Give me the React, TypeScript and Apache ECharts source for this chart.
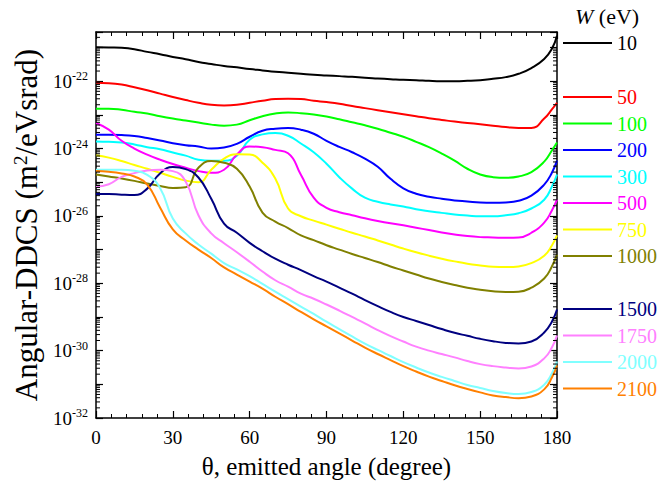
import React, { useEffect, useRef } from 'react';
import * as echarts from 'echarts';

const FONT = 'Liberation Serif';

// emitted angle (degree)
const angles = [0, 5, 10, 15, 20, 25, 30, 35, 40, 45, 50, 55, 60, 65, 70, 75, 80, 85, 90, 95,
  100, 105, 110, 115, 120, 125, 130, 135, 140, 145, 150, 155, 160, 165, 170, 175, 178, 180];

// log10 of Angular-DDCS (m^2/eVsrad), one array per W (eV)
const w10 = [-20.99, -21.00, -21.01, -21.05, -21.13, -21.20, -21.28, -21.35, -21.43, -21.49,
  -21.55, -21.59, -21.64, -21.68, -21.72, -21.75, -21.78, -21.81, -21.83, -21.85,
  -21.87, -21.90, -21.92, -21.94, -21.96, -21.97, -21.99, -22.00, -22.00, -21.99,
  -21.97, -21.93, -21.88, -21.78, -21.61, -21.34, -21.04, -20.65];
const w50 = [-22.05, -22.06, -22.10, -22.18, -22.27, -22.37, -22.47, -22.56, -22.64, -22.70,
  -22.72, -22.70, -22.64, -22.58, -22.53, -22.52, -22.53, -22.58, -22.62, -22.67,
  -22.74, -22.80, -22.86, -22.92, -22.98, -23.04, -23.10, -23.15, -23.20, -23.24,
  -23.28, -23.32, -23.36, -23.39, -23.39, -23.11, -22.84, -22.64];
const w100 = [-22.82, -22.82, -22.85, -22.91, -22.96, -23.04, -23.11, -23.17, -23.23, -23.29,
  -23.32, -23.29, -23.16, -23.04, -22.96, -22.93, -22.95, -22.99, -23.05, -23.13,
  -23.22, -23.31, -23.41, -23.53, -23.65, -23.80, -23.96, -24.15, -24.36, -24.60,
  -24.77, -24.85, -24.87, -24.83, -24.70, -24.39, -24.06, -23.82];
const w200 = [-23.59, -23.59, -23.60, -23.63, -23.69, -23.76, -23.84, -23.90, -23.94, -24.00,
  -23.97, -23.86, -23.65, -23.47, -23.41, -23.39, -23.44, -23.56, -23.77, -23.95,
  -24.11, -24.30, -24.54, -24.90, -25.18, -25.34, -25.43, -25.49, -25.54, -25.57,
  -25.60, -25.61, -25.60, -25.55, -25.40, -25.07, -24.72, -24.36];
const w300 = [-23.79, -23.80, -23.82, -23.88, -23.96, -24.02, -24.12, -24.21, -24.33, -24.36,
  -24.36, -24.21, -23.74, -23.58, -23.54, -23.62, -23.85, -24.11, -24.45, -24.85,
  -25.19, -25.46, -25.58, -25.66, -25.72, -25.80, -25.86, -25.91, -25.96, -25.99,
  -26.01, -26.01, -25.98, -25.92, -25.78, -25.52, -25.13, -24.77];
const w500 = [-23.24, -23.44, -23.77, -24.00, -24.18, -24.33, -24.46, -24.57, -24.67, -24.72,
  -24.63, -24.18, -23.94, -23.96, -24.04, -24.14, -24.78, -25.46, -25.76, -25.89,
  -25.98, -26.07, -26.15, -26.22, -26.28, -26.35, -26.42, -26.49, -26.55, -26.60,
  -26.63, -26.64, -26.65, -26.64, -26.50, -26.20, -25.84, -25.52];
const w750 = [-24.20, -24.27, -24.37, -24.49, -24.60, -24.72, -24.84, -24.95, -25.00, -24.63,
  -24.30, -24.17, -24.18, -24.42, -24.89, -25.78, -26.01, -26.14, -26.26, -26.38,
  -26.50, -26.61, -26.73, -26.85, -26.97, -27.08, -27.18, -27.27, -27.35, -27.42,
  -27.47, -27.51, -27.52, -27.50, -27.40, -27.18, -26.88, -26.58];
const w1000 = [-24.77, -24.83, -24.89, -24.96, -25.04, -25.11, -25.17, -25.15, -24.57, -24.37,
  -24.42, -24.60, -25.13, -25.90, -26.17, -26.36, -26.58, -26.72, -26.87, -27.00,
  -27.13, -27.25, -27.37, -27.50, -27.62, -27.74, -27.86, -27.96, -28.05, -28.13,
  -28.19, -28.24, -28.26, -28.25, -28.13, -27.86, -27.50, -27.15];
const w1500 = [-25.35, -25.35, -25.37, -25.38, -25.19, -24.74, -24.55, -24.61, -24.86, -25.49,
  -26.23, -26.50, -26.80, -27.05, -27.27, -27.45, -27.61, -27.79, -27.95, -28.13,
  -28.31, -28.50, -28.68, -28.85, -29.00, -29.12, -29.24, -29.36, -29.47, -29.56,
  -29.65, -29.72, -29.77, -29.79, -29.73, -29.46, -29.14, -28.78];
const w1750 = [-25.13, -25.06, -24.84, -24.73, -24.65, -24.63, -24.67, -24.98, -25.98, -26.52,
  -26.81, -27.08, -27.36, -27.65, -27.91, -28.10, -28.31, -28.46, -28.63, -28.81,
  -29.00, -29.19, -29.39, -29.57, -29.73, -29.88, -30.00, -30.10, -30.20, -30.31,
  -30.40, -30.46, -30.50, -30.53, -30.47, -30.23, -29.91, -29.55];
const w2000 = [-24.63, -24.63, -24.63, -24.66, -24.78, -25.17, -26.08, -26.52, -26.85, -27.12,
  -27.40, -27.59, -27.79, -28.02, -28.25, -28.47, -28.69, -28.91, -29.14, -29.36,
  -29.58, -29.79, -29.98, -30.16, -30.34, -30.50, -30.65, -30.78, -30.90, -31.02,
  -31.11, -31.20, -31.26, -31.29, -31.23, -31.01, -30.68, -30.32];
const w2100 = [-24.67, -24.69, -24.74, -24.83, -25.07, -25.75, -26.40, -26.73, -27.00, -27.25,
  -27.53, -27.74, -27.95, -28.16, -28.40, -28.62, -28.85, -29.07, -29.28, -29.49,
  -29.70, -29.91, -30.10, -30.28, -30.46, -30.62, -30.77, -30.90, -31.03, -31.14,
  -31.24, -31.33, -31.38, -31.41, -31.36, -31.15, -30.80, -30.44];

const seriesNames = ['10', '50', '100', '200', '300', '500', '750', '1000', '1500', '1750', '2000', '2100'];
const seriesValues = [w10, w50, w100, w200, w300, w500, w750, w1000, w1500, w1750, w2000, w2100];
const seriesColors = ['#000000', '#FF0000', '#00FF00', '#0000FF', '#00FFFF', '#FF00FF', '#FFFF00',
  '#808000', '#000080', '#FF80FF', '#80FFFF', '#FF8000'];

const legendGroups = [['10'], ['50', '100', '200', '300', '500', '750', '1000'], ['1500', '1750', '2000', '2100']];
const legendTops = [33, 87, 299];

const Y_MIN = -32;
const Y_MAX = -20.54;

export default function App() {
  const ref = useRef<HTMLDivElement>(null);
  useEffect(() => {
    if (!ref.current) return;
    const chart = echarts.init(ref.current, undefined, { renderer: 'svg' });

    const minorY: number[][] = [];
    for (let n = -32; n <= -21; n++) {
      for (let k = 2; k <= 9; k++) {
        const v = n + Math.log10(k);
        if (v < Y_MAX) minorY.push([0, v]);
      }
    }

    const colorOf = (name: string) => seriesColors[seriesNames.indexOf(name)];

    const axisLine = { show: true, onZero: false, lineStyle: { color: '#000', width: 1.5 } };
    const axisTick = { show: true, inside: true, length: 7, lineStyle: { color: '#000', width: 1.2 } };

    const yFormatter = (v: number) => {
      const n = Math.round(v);
      if (Math.abs(v - n) > 1e-6 || n % 2 !== 0) return '';
      return `{b|10}{s|${n}}`;
    };

    const option: any = {
      animation: false,
      backgroundColor: '#ffffff',
      textStyle: { fontFamily: FONT },
      grid: { left: 96, top: 32, width: 461, height: 386, containLabel: false },
      xAxis: [
        {
          type: 'value', min: 0, max: 180, interval: 30, position: 'bottom',
          axisLine, axisTick,
          minorTick: { show: true, splitNumber: 5, length: 4, lineStyle: { color: '#000', width: 1 } },
          splitLine: { show: false },
          axisLabel: { fontSize: 19, color: '#000', margin: 10, fontFamily: FONT },
          name: 'θ, emitted angle (degree)', nameLocation: 'middle', nameGap: 36,
          nameTextStyle: { fontSize: 25, color: '#000', fontFamily: FONT },
        },
        {
          type: 'value', min: 0, max: 180, interval: 30, position: 'top',
          axisLine, axisTick,
          minorTick: { show: true, splitNumber: 5, length: 4, lineStyle: { color: '#000', width: 1 } },
          splitLine: { show: false },
          axisLabel: { show: false },
        },
      ],
      yAxis: [
        {
          type: 'value', min: Y_MIN, max: Y_MAX, interval: 1, position: 'left',
          axisLine, axisTick,
          splitLine: { show: false },
          axisLabel: {
            formatter: yFormatter, margin: 8, color: '#000', fontFamily: FONT,
            rich: {
              b: { fontSize: 19, fontFamily: FONT, color: '#000', lineHeight: 22 },
              s: { fontSize: 12, fontFamily: FONT, color: '#000', verticalAlign: 'top', lineHeight: 12 },
            },
          },
          name: 'Angular-DDCS (m{sup|2}/eVsrad)', nameLocation: 'middle', nameGap: 48, nameRotate: 90,
          nameTextStyle: {
            fontSize: 31, color: '#000', fontFamily: FONT,
            rich: { sup: { fontSize: 19, fontFamily: FONT, color: '#000', verticalAlign: 'top' } },
          },
        },
        {
          type: 'value', min: Y_MIN, max: Y_MAX, interval: 1, position: 'right',
          axisLine, axisTick,
          splitLine: { show: false },
          axisLabel: { show: false },
        },
      ],
      legend: legendGroups.map((g, i) => ({
        orient: 'vertical', left: 563, top: legendTops[i], padding: 0,
        icon: 'rect', itemWidth: 49, itemHeight: 2, itemGap: 6.5, selectedMode: false,
        textStyle: { fontSize: 20, fontFamily: FONT, lineHeight: 20, padding: 0 },
        data: g.map((name) => ({
          name,
          textStyle: { color: colorOf(name), fontFamily: FONT, fontSize: 20 },
          itemStyle: { color: colorOf(name) },
        })),
      })),
      graphic: [
        {
          type: 'text', left: 575, top: 5,
          style: {
            text: '{i|W} (eV)', fontSize: 22, fontFamily: FONT, fill: '#000',
            rich: { i: { fontStyle: 'italic', fontSize: 22, fontFamily: FONT, fill: '#000' } },
          },
        },
      ],
      series: [
        ...seriesNames.map((name, i) => ({
          type: 'line', name,
          xAxisIndex: 0, yAxisIndex: 0,
          data: angles.map((a, j) => [a, seriesValues[i][j]]),
          showSymbol: false, smooth: 0.5,
          lineStyle: { width: 2, color: seriesColors[i] },
          itemStyle: { color: seriesColors[i] },
          z: 2,
        })),
        {
          type: 'custom', name: 'minorTicks', silent: true, clip: false, z: 5,
          xAxisIndex: 0, yAxisIndex: 0,
          data: minorY,
          renderItem: (_p: any, api: any) => {
            const y = api.value(1);
            const pl = api.coord([0, y]);
            const pr = api.coord([180, y]);
            return {
              type: 'group',
              children: [
                { type: 'line', shape: { x1: pl[0], y1: pl[1], x2: pl[0] + 4, y2: pl[1] }, style: { stroke: '#000', lineWidth: 1 } },
                { type: 'line', shape: { x1: pr[0] - 4, y1: pr[1], x2: pr[0], y2: pr[1] }, style: { stroke: '#000', lineWidth: 1 } },
              ],
            };
          },
        },
      ],
    };
    chart.setOption(option);
    return () => chart.dispose();
  }, []);
  return <div ref={ref} style={{ position: 'absolute', left: 0, top: 0, width: 660, height: 487 }} />;
}
